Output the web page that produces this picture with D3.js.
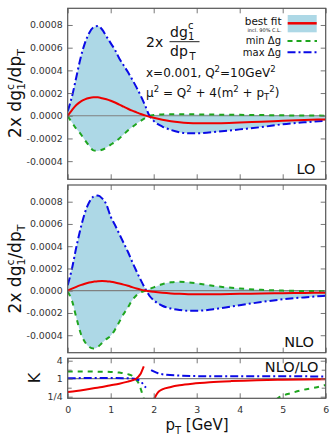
<!DOCTYPE html>
<html><head><meta charset="utf-8">
<script src="https://cdn.jsdelivr.net/npm/d3@7"></script>
<style>body{margin:0;background:#fff}svg{display:block}text{font-family:"DejaVu Sans",sans-serif}</style>
</head><body><svg id="c" width="332" height="443"></svg>
<script>
// ---- data (dg/dpT values in units of 1e-4) ----
const pT = [0,0.1,0.2,0.3,0.4,0.5,0.6,0.7,0.8,0.9,1.0,1.1,1.2,1.3,1.4,1.5,1.6,1.7,1.8,1.9,2.0,2.2,2.4,2.6,2.8,3.0,3.5,4.0,4.5,5.0,5.5,6.0];
const loBest = [0,0.5,0.95,1.25,1.45,1.57,1.62,1.62,1.55,1.45,1.32,1.17,0.98,0.8,0.62,0.45,0.3,0.15,0.03,-0.08,-0.18,-0.35,-0.48,-0.57,-0.63,-0.66,-0.66,-0.6,-0.52,-0.45,-0.38,-0.32];
const loMin  = [-0.05,-0.6,-1.15,-1.6,-2.15,-2.65,-3.05,-3.1,-3.0,-2.8,-2.55,-2.3,-2.0,-1.65,-1.3,-1.0,-0.7,-0.45,-0.2,0.0,0.06,0.12,0.14,0.14,0.13,0.12,0.1,0.08,0.06,0.04,0.02,0.01];
const loMax  = [0.4,1.7,3.4,5.1,6.4,7.3,7.8,7.9,7.6,7.0,6.4,5.8,5.05,4.45,3.85,3.2,2.5,1.75,0.9,0.0,-0.45,-0.95,-1.25,-1.45,-1.55,-1.55,-1.4,-1.2,-1.0,-0.75,-0.58,-0.44];
const nloBest = [0,0.18,0.35,0.5,0.63,0.74,0.81,0.86,0.87,0.86,0.81,0.74,0.65,0.55,0.44,0.32,0.2,0.1,0.02,-0.05,-0.1,-0.18,-0.24,-0.28,-0.31,-0.32,-0.31,-0.28,-0.25,-0.22,-0.2,-0.18];
const nloMin  = [-0.1,-0.9,-2.4,-3.8,-4.6,-5.05,-5.2,-5.05,-4.7,-4.35,-4.05,-3.5,-2.8,-2.1,-1.5,-0.85,-0.4,-0.15,0.0,0.15,0.3,0.58,0.76,0.81,0.75,0.66,0.38,0.2,0.08,0.01,-0.02,-0.03];
const nloMax  = [0.5,2.0,3.9,5.6,7.0,7.95,8.45,8.55,8.3,7.75,6.65,5.9,5.1,4.3,3.5,2.6,1.75,0.95,0.2,-0.45,-0.85,-1.35,-1.6,-1.73,-1.8,-1.8,-1.6,-1.3,-1.02,-0.77,-0.6,-0.45];
// K = NLO/LO (null = gap)
const kBestPt = [0,0.2,0.4,0.6,0.8,1.0,1.2,1.4,1.5,1.6,1.65,1.7,1.75,1.77,1.9,2.0,2.05,2.1,2.2,2.4,2.6,2.9,3.3,3.8,4.4,5.0,6.0];
const kBest   = [0.36,0.39,0.43,0.48,0.53,0.6,0.68,0.8,0.88,1.02,1.2,1.5,2.2,2.6,null,0.2,0.27,0.35,0.44,0.53,0.6,0.68,0.76,0.83,0.89,0.92,0.95];
const kMinPt  = [0,0.5,1.0,1.2,1.4,1.5,1.6,1.65,1.7,1.75,1.77,3.0,4.85,4.9,5.0,5.2,5.5,5.8,6.0];
const kMin    = [1.75,1.73,1.68,1.6,1.42,1.25,0.9,0.7,0.45,0.26,0.21,null,0.2,0.23,0.27,0.33,0.43,0.52,0.62];
const kMaxPt  = [0,0.5,1.0,1.4,1.55,1.65,1.72,1.78,1.82,1.88,1.94,2.0,2.1,2.3,2.6,3.0,4.0,5.0,6.0];
const kMax    = [1.03,1.05,1.05,1.03,1.0,0.9,0.75,0.58,0.5,null,1.95,1.75,1.52,1.35,1.27,1.22,1.2,1.2,1.19];
const xTicks = [0,1,2,3,4,5,6];
const yTicks = [-4,-2,0,2,4,6,8];
const kTicks = [0.25,1,4];
const kTickLabels = ["1/4","1","4"];
const kMinorTicks = [0.5,2];

// ---- layout ----
const svg = d3.select("#c");
const L = 67.7, R = 325.7;
const x = d3.scaleLinear().domain([0,6]).range([L,R]);
const y1 = d3.scaleLinear().domain([-5.6,9.47]).range([179.3,8.3]);
const y2 = d3.scaleLinear().domain([-5.57,9.5]).range([352.7,185]);
const yk = d3.scaleLog().base(2).domain([0.221,4.81]).range([398.3,358.3]);
const RED="#ee0000", GREEN="#1fa51f", BLUE="#0a0ae6", FILL="#add8e6", FRAME="#555";

function clip(id, y){
  svg.append("clipPath").attr("id",id).append("rect")
    .attr("x",L).attr("y",y.range()[1]).attr("width",R-L).attr("height",y.range()[0]-y.range()[1]);
}
clip("c1",y1); clip("c2",y2); clip("c3",yk);

function panel(y, best, mn, mx, cid){
  const g = svg.append("g").attr("clip-path",`url(#${cid})`);
  const area = d3.area().x((d,i)=>x(pT[i])).y0((d,i)=>y(mn[i])).y1((d,i)=>y(mx[i])).curve(d3.curveMonotoneX);
  g.append("path").attr("d",area(pT)).attr("fill",FILL);
  g.append("line").attr("x1",L).attr("x2",R).attr("y1",y(0)).attr("y2",y(0)).attr("stroke","#808080").attr("stroke-width",1.2);
  const line = arr => d3.line().x((d,i)=>x(pT[i])).y((d,i)=>y(arr[i])).curve(d3.curveMonotoneX)(pT);
  g.append("path").attr("d",line(mn)).attr("fill","none").attr("stroke",GREEN).attr("stroke-width",2).attr("stroke-dasharray","5,5");
  g.append("path").attr("d",line(mx)).attr("fill","none").attr("stroke",BLUE).attr("stroke-width",2).attr("stroke-dasharray","8,3,2,3");
  g.append("path").attr("d",line(best)).attr("fill","none").attr("stroke",RED).attr("stroke-width",2);
}
panel(y1, loBest, loMin, loMax, "c1");
panel(y2, nloBest, nloMin, nloMax, "c2");

// K panel
{
  const g = svg.append("g").attr("clip-path","url(#c3)");
  g.append("line").attr("x1",L).attr("x2",R).attr("y1",yk(1)).attr("y2",yk(1)).attr("stroke","#808080").attr("stroke-width",1.2);
  const kl = (px, arr) => d3.line().defined((d,i)=>arr[i]!=null).x((d,i)=>x(px[i])).y((d,i)=>yk(arr[i])).curve(d3.curveMonotoneX)(px);
  g.append("path").attr("d",kl(kMinPt,kMin)).attr("fill","none").attr("stroke",GREEN).attr("stroke-width",2).attr("stroke-dasharray","5,5");
  g.append("path").attr("d",kl(kMaxPt,kMax)).attr("fill","none").attr("stroke",BLUE).attr("stroke-width",2).attr("stroke-dasharray","8,3,2,3");
  g.append("path").attr("d",kl(kBestPt,kBest)).attr("fill","none").attr("stroke",RED).attr("stroke-width",2);
}

// ---- axes ----
const fmtY = d => (d*1e-4).toFixed(4);
function styleAxis(sel){
  sel.select(".domain").remove();
  sel.selectAll(".tick line").attr("stroke","#777");
  sel.selectAll("text").attr("fill","#333").style("font-family","DejaVu Sans").style("font-size","9.4px");
}
function frameAxes(y, ticks, fmt, minor, bottomLabels){
  const top = y.range()[1], bot = y.range()[0];
  svg.append("g").attr("transform",`translate(${L},0)`).call(d3.axisLeft(y).tickValues(ticks).tickSize(-5).tickPadding(5).tickFormat(fmt)).call(styleAxis);
  svg.append("g").attr("transform",`translate(${R},0)`).call(d3.axisRight(y).tickValues(ticks).tickSize(-5).tickFormat("")).call(styleAxis);
  if (minor){
    svg.append("g").attr("transform",`translate(${L},0)`).call(d3.axisLeft(y).tickValues(minor).tickSize(-4).tickFormat("")).call(styleAxis);
    svg.append("g").attr("transform",`translate(${R},0)`).call(d3.axisRight(y).tickValues(minor).tickSize(-4).tickFormat("")).call(styleAxis);
  }
  svg.append("g").attr("transform",`translate(0,${top})`).call(d3.axisTop(x).tickValues(xTicks).tickSize(-5).tickFormat("")).call(styleAxis);
  svg.append("g").attr("transform",`translate(0,${bot})`).call(d3.axisBottom(x).tickValues(xTicks).tickSize(-5).tickPadding(8).tickFormat(bottomLabels? d3.format("d") : "")).call(styleAxis);
  svg.append("rect").attr("x",L).attr("y",top).attr("width",R-L).attr("height",bot-top).attr("fill","none").attr("stroke",FRAME).attr("stroke-width",1.2);
}
frameAxes(y1, yTicks, fmtY, null, false);
frameAxes(y2, yTicks, fmtY, null, false);
frameAxes(yk, kTicks, (d,i)=>kTickLabels[i], kMinorTicks, true);

// ---- texts ----
function ylab(cy){
  const t = svg.append("text").attr("transform",`translate(20.5,${cy}) rotate(-90)`).attr("text-anchor","middle").attr("font-size",17).attr("fill","#111");
  t.append("tspan").text("2x dg");
  t.append("tspan").attr("font-size",11).attr("dy",-6.5).text("c");
  t.append("tspan").attr("font-size",11).attr("dx",-6.1).attr("dy",10.5).text("1");
  t.append("tspan").attr("dy",-4).text("/dp");
  t.append("tspan").attr("font-size",11).attr("dy",4).text("T");
}
ylab(93.5); ylab(269);
svg.append("text").attr("transform","translate(40,378) rotate(-90)").attr("text-anchor","middle").attr("font-size",16).attr("fill","#111").text("K");
{
  const t = svg.append("text").attr("x",197).attr("y",430).attr("text-anchor","middle").attr("font-size",15).attr("fill","#111");
  t.append("tspan").text("p");
  t.append("tspan").attr("font-size",10).attr("dy",3.5).text("T");
  t.append("tspan").attr("dy",-3.5).text(" [GeV]");
}
// fraction annotation
svg.append("text").attr("x",146).attr("y",46.5).attr("font-size",14).attr("fill","#111").text("2x");
svg.append("text").attr("x",170).attr("y",37).attr("font-size",14).attr("fill","#111").text("dg");
svg.append("text").attr("x",188).attr("y",28.5).attr("font-size",10).attr("fill","#111").text("c");
svg.append("text").attr("x",188).attr("y",39.5).attr("font-size",10).attr("fill","#111").text("1");
svg.append("line").attr("x1",169.5).attr("x2",199.5).attr("y1",41.7).attr("y2",41.7).attr("stroke","#222").attr("stroke-width",1);
svg.append("text").attr("x",170).attr("y",55.5).attr("font-size",14).attr("fill","#111").text("dp");
svg.append("text").attr("x",189.5).attr("y",59.5).attr("font-size",10).attr("fill","#111").text("T");
// kinematics
{
  const t = svg.append("text").attr("x",146).attr("y",77).attr("font-size",12).attr("fill","#111");
  t.append("tspan").text("x=0.001, Q");
  t.append("tspan").attr("font-size",8.5).attr("dy",-5).text("2");
  t.append("tspan").attr("dy",5).text("=10GeV");
  t.append("tspan").attr("font-size",8.5).attr("dy",-5).text("2");
  const u = svg.append("text").attr("x",146).attr("y",96.5).attr("font-size",12).attr("fill","#111");
  u.append("tspan").text("μ");
  u.append("tspan").attr("font-size",8.5).attr("dy",-5).text("2");
  u.append("tspan").attr("dy",5).text(" = Q");
  u.append("tspan").attr("font-size",8.5).attr("dy",-5).text("2");
  u.append("tspan").attr("dy",5).text(" + 4(m");
  u.append("tspan").attr("font-size",8.5).attr("dy",-5).text("2");
  u.append("tspan").attr("dy",5).text(" + p");
  u.append("tspan").attr("font-size",8.5).attr("dy",3).text("T");
  u.append("tspan").attr("font-size",8.5).attr("dy",-8).text("2");
  u.append("tspan").attr("dy",5).text(")");
}
svg.append("text").attr("x",315.5).attr("y",174).attr("text-anchor","end").attr("font-size",14.5).attr("fill","#111").text("LO");
svg.append("text").attr("x",314).attr("y",346.5).attr("text-anchor","end").attr("font-size",14.5).attr("fill","#111").text("NLO");
svg.append("text").attr("x",318.5).attr("y",371.5).attr("text-anchor","end").attr("font-size",14.5).attr("fill","#111").text("NLO/LO");
// legend
svg.append("rect").attr("x",287.7).attr("y",15).attr("width",29).attr("height",17.3).attr("fill",FILL);
svg.append("line").attr("x1",287.7).attr("x2",316.7).attr("y1",23.3).attr("y2",23.3).attr("stroke",RED).attr("stroke-width",2.5);
svg.append("line").attr("x1",287.5).attr("x2",317).attr("y1",41).attr("y2",41).attr("stroke",GREEN).attr("stroke-width",2).attr("stroke-dasharray","5,4");
svg.append("line").attr("x1",287.5).attr("x2",317).attr("y1",52.3).attr("y2",52.3).attr("stroke",BLUE).attr("stroke-width",2).attr("stroke-dasharray","8,3,2,3");
svg.append("text").attr("x",281.5).attr("y",25).attr("text-anchor","end").attr("font-size",10.5).attr("fill","#111").text("best fit");
svg.append("text").attr("x",281.5).attr("y",32.3).attr("text-anchor","end").attr("font-size",5).attr("fill","#111").text("incl. 90% C.L.");
svg.append("text").attr("x",281).attr("y",44.3).attr("text-anchor","end").attr("font-size",10).attr("fill","#111").text("min Δg");
svg.append("text").attr("x",281).attr("y",56.2).attr("text-anchor","end").attr("font-size",10).attr("fill","#111").text("max Δg");
</script></body></html>
